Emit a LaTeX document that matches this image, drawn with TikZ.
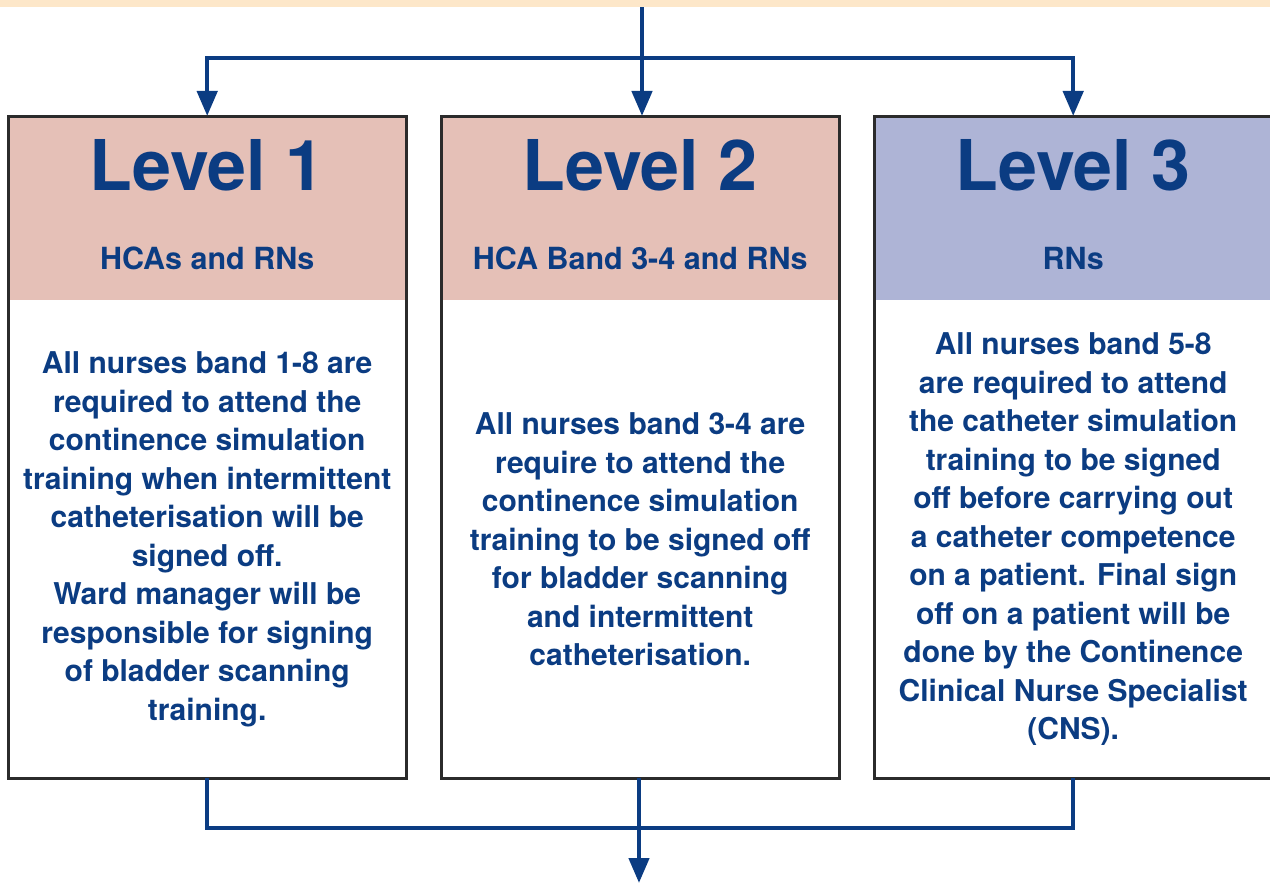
\documentclass[tikz,border=0pt]{standalone}
\usepackage{fontspec}
\setmainfont{TeX Gyre Heros}
\usetikzlibrary{arrows.meta}
\definecolor{band}{HTML}{FDE7C9}
\definecolor{pinkh}{HTML}{E5C0B7}
\definecolor{lavh}{HTML}{AEB4D6}
\definecolor{navy}{HTML}{0B3C82}
\definecolor{edge}{HTML}{2B2B2B}
\tikzset{
  x=1pt, y=-1pt,
  hdr/.style={rectangle, minimum width=398pt, minimum height=184pt, inner sep=0pt, anchor=north west, draw=none},
  bodybox/.style={rectangle, minimum width=398pt, minimum height=478pt, inner sep=0pt, anchor=north west, fill=white},
  frame/.style={draw=edge, line width=3pt},
  lvl/.style={text=navy, font=\bfseries\fontsize{70}{70}\selectfont, inner sep=0pt},
  sub/.style={text=navy, font=\bfseries\fontsize{30.5}{34}\selectfont, inner sep=0pt},
  bodytxt/.style={text=navy, font=\bfseries\fontsize{30}{38.5}\selectfont, align=center, inner sep=0pt},
  conn/.style={draw=navy, line width=4.5pt},
  arr/.style={conn, -{Triangle[width=20pt,length=25pt]}}
}
\begin{document}
\begin{tikzpicture}
\useasboundingbox (0,0) rectangle (1270,883);
\clip (0,0) rectangle (1270,883);
\fill[band] (0,0) rectangle (1270,7);
\node[inner sep=0pt, minimum width=1270pt, minimum height=7pt, anchor=north west] (topband) at (0,0) {};

% headers
\node[hdr, fill=pinkh] (h1) at (8,116) {};
\node[hdr, fill=pinkh] (h2) at (441,116) {};
\node[hdr, fill=lavh] (h3) at (874,116) {};
% bodies
\node[bodybox] (b1) at (8,300) {};
\node[bodybox] (b2) at (441,300) {};
\node[bodybox] (b3) at (874,300) {};
% frames
\draw[frame] (h1.north west) rectangle (b1.south east);
\draw[frame] (h2.north west) rectangle (b2.south east);
\draw[frame] (h3.north west) rectangle (b3.south east);

% header texts
\node[lvl] (l1) at ([yshift=43pt]h1.center) {Level 1};
\node[lvl] (l2) at ([yshift=43pt]h2.center) {Level 2};
\node[lvl] (l3) at ([yshift=43pt]h3.center) {Level 3};
\node[sub] (s1) at ([yshift=-50pt]h1.center) {HCAs and RNs};
\node[sub] (s2) at ([yshift=-50pt]h2.center) {HCA Band 3-4 and RNs};
\node[sub] (s3) at ([yshift=-50pt]h3.center) {RNs};

% body texts
\node[bodytxt] (t1) at (b1.center) {All nurses band 1-8 are\\required to attend the\\continence simulation\\training when intermittent\\catheterisation will be\\signed off.\\Ward manager will be\\responsible for signing\\of bladder scanning\\training.};
\node[bodytxt] (t2) at (b2.center) {All nurses band 3-4 are\\require to attend the\\continence simulation\\training to be signed off\\for bladder scanning\\and intermittent\\catheterisation.};
\node[bodytxt] (t3) at (b3.center) {All nurses band 5-8\\are required to attend\\the catheter simulation\\training to be signed\\off before carrying out\\a catheter competence\\on a patient. Final sign\\off on a patient will be\\done by the Continence\\Clinical Nurse Specialist\\(CNS).};

% top connectors
\coordinate (hj) at (642,58);
\draw[arr] (topband.south -| hj) -- (hj) -- (hj |- h2.north);
\draw[arr] (hj) -| (h1.north);
\draw[arr] (hj) -| (h3.north);

% bottom connectors
\coordinate (bj) at (639,828);
\coordinate (bend) at (639,883);
\draw[conn] (b1.south) |- (bj) -| (b3.south);
\draw[arr] (b2.south -| bj) -- (bend);
\end{tikzpicture}
\end{document}
